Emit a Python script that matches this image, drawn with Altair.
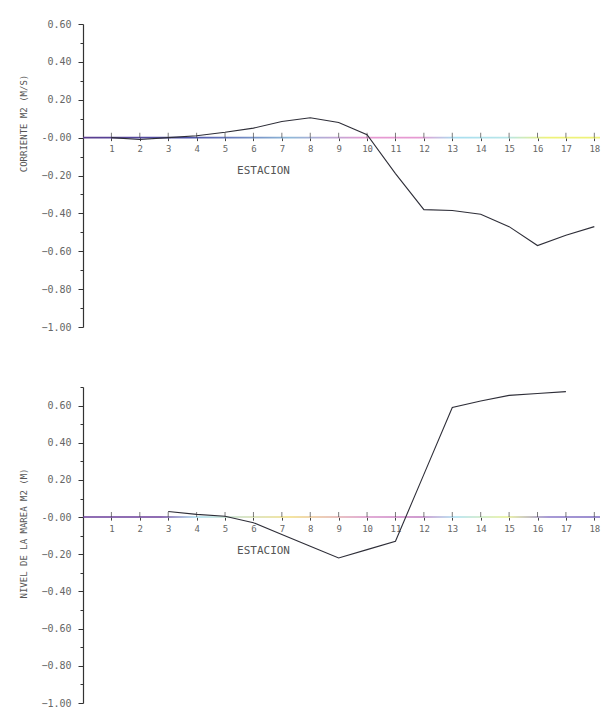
import altair as alt
import pandas as pd

# ---- data ----
stations = [1, 2, 3, 4, 5, 6, 7, 8, 9, 10, 11, 12, 13, 14, 15, 16, 17, 18]
current_m2 = [0.0, -0.01, 0.0, 0.01, 0.028, 0.05, 0.085, 0.105, 0.08, 0.015,
              -0.19, -0.38, -0.385, -0.405, -0.47, -0.57, -0.515, -0.47]

level_stations = [3, 4, 5, 6, 7, 8, 9, 10, 11, 12, 13, 14, 15, 16, 17]
level_m2 = [0.03, 0.015, 0.005, -0.03, -0.093, -0.157, -0.22, -0.175, -0.13,
            0.23, 0.59, 0.625, 0.655, 0.665, 0.675]

x_domain = [0, 18.2]
top_y_domain = [-1.0, 0.6]
bottom_y_domain = [-1.0, 0.7]
top_y_ticks = [-1.0, -0.9, -0.8, -0.7, -0.6, -0.5, -0.4, -0.3, -0.2, -0.1,
               0.0, 0.1, 0.2, 0.3, 0.4, 0.5, 0.6]
bottom_y_ticks = top_y_ticks + [0.7]

top_title = "CORRIENTE M2 (M/S)"
bottom_title = "NIVEL DE LA MAREA M2 (M)"
x_title = "ESTACION"

FONT = "DejaVu Sans Mono"
W = 517

top_stops = [
    {"offset": 0.0, "color": "#5b3d8f"},
    {"offset": 0.2, "color": "#4a4fa8"},
    {"offset": 0.4, "color": "#8fb8d8"},
    {"offset": 0.55, "color": "#e69ad2"},
    {"offset": 0.65, "color": "#e69ad2"},
    {"offset": 0.72, "color": "#a8def0"},
    {"offset": 0.82, "color": "#b8e6e8"},
    {"offset": 0.9, "color": "#eef27a"},
    {"offset": 1.0, "color": "#eef27a"},
]
bottom_stops = [
    {"offset": 0.0, "color": "#6a3d9a"},
    {"offset": 0.15, "color": "#6a3d9a"},
    {"offset": 0.22, "color": "#a8def0"},
    {"offset": 0.4, "color": "#f0dc80"},
    {"offset": 0.55, "color": "#d890c8"},
    {"offset": 0.65, "color": "#c07ac0"},
    {"offset": 0.72, "color": "#a8def0"},
    {"offset": 0.82, "color": "#e6f090"},
    {"offset": 0.9, "color": "#8a78c8"},
    {"offset": 1.0, "color": "#7a68c0"},
]


def panel(st, vals, ydom, yticks, ytitle, title_y, height, stops, interp):
    zero_from_bottom = height * (0 - ydom[0]) / (ydom[1] - ydom[0])
    xscale = alt.Scale(domain=x_domain, nice=False, zero=False)
    yscale = alt.Scale(domain=ydom, nice=False, zero=False)
    xaxis = alt.Axis(values=stations, title=x_title, offset=-zero_from_bottom,
                     domain=False, grid=False, tickSize=3, tickColor="#444",
                     labelFont=FONT, labelFontSize=9, labelColor="#666",
                     labelPadding=4, labelOverlap=False, labelFlush=False,
                     titleFont=FONT, titleFontSize=11, titleFontWeight="normal",
                     titleColor="#555", titleX=180, titleY=33,
                     titleAlign="center", titleBaseline="middle")
    yaxis = alt.Axis(values=yticks, title=ytitle, grid=False,
                     domainColor="#333", domainWidth=1.2,
                     tickColor="#333",
                     tickSize={"condition": {"test": "round(datum.value*10) % 2 == 0", "value": 5}, "value": 3},
                     labelExpr="round(datum.value*10) % 2 != 0 ? '' : (datum.value == 0 ? '-0.00' : format(datum.value, '.2f'))",
                     labelFont=FONT, labelFontSize=10, labelColor="#666",
                     labelPadding=7, labelOverlap=False, labelFlush=False,
                     titleFont=FONT, titleFontSize=9, titleFontWeight="normal",
                     titleColor="#555", titleX=-60, titleY=title_y,
                     titleAlign="center", titleBaseline="middle", titleAngle=270)

    band = pd.DataFrame({"estacion": [x_domain[0]], "estacion2": [x_domain[1]],
                         "valor": [-0.004], "valor2": [0.004]})
    base_band = alt.Chart(band).mark_rect(
        color=alt.LinearGradient(gradient="linear", stops=stops, x1=0, x2=1, y1=0, y2=0)
    ).encode(
        x=alt.X("estacion:Q", scale=xscale, axis=xaxis),
        x2="estacion2:Q",
        y=alt.Y("valor:Q", scale=yscale, axis=yaxis),
        y2="valor2:Q",
    )

    ticks_df = pd.DataFrame({"estacion": stations, "valor": [0.0] * len(stations)})
    ticks = alt.Chart(ticks_df).mark_tick(
        orient="vertical", size=5, thickness=1, color="#444", yOffset=-2.5
    ).encode(
        x=alt.X("estacion:Q", scale=xscale, axis=xaxis),
        y=alt.Y("valor:Q", scale=yscale, axis=yaxis),
    )

    df = pd.DataFrame({"estacion": st, "valor": vals})
    line = alt.Chart(df).mark_line(
        color="#2e2e38", strokeWidth=1.1, interpolate=interp
    ).encode(
        x=alt.X("estacion:Q", scale=xscale, axis=xaxis),
        y=alt.Y("valor:Q", scale=yscale, axis=yaxis),
    )

    return alt.layer(base_band, ticks, line).properties(width=W, height=height)


top = panel(stations, current_m2, top_y_domain, top_y_ticks, top_title, 99, 303,
            top_stops, "linear")
bottom = panel(level_stations, level_m2, bottom_y_domain, bottom_y_ticks, bottom_title,
               146, 316, bottom_stops, "linear")

chart = alt.vconcat(top, bottom, spacing=50).properties(
    padding={"left": 11, "top": 11, "right": 5, "bottom": 0},
    background="white",
).configure_view(stroke=None)

chart.save("out.html", embed_options={"renderer": "svg", "actions": False})
